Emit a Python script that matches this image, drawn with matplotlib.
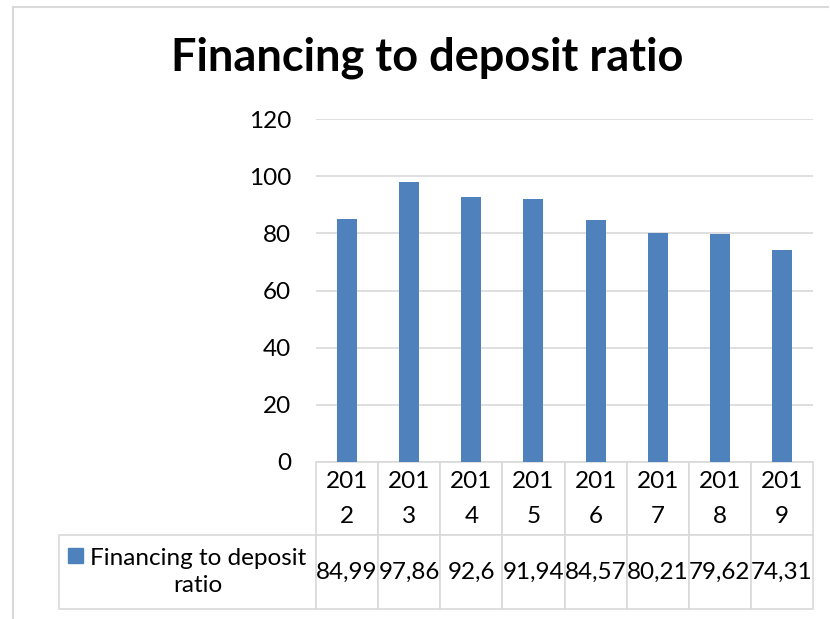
import matplotlib
matplotlib.use("Agg")
import matplotlib.pyplot as plt
from matplotlib.lines import Line2D
from matplotlib.patches import Rectangle

# Data
years = ["2012", "2013", "2014", "2015", "2016", "2017", "2018", "2019"]
ratio = [84.99, 97.86, 92.6, 91.94, 84.57, 80.21, 79.62, 74.31]
series_name = "Financing to deposit ratio"
title = "Financing to deposit ratio"

bar_color = "#4f81bd"
grid_color = "#d9d9d9"
plt.rcParams["font.family"] = ["Lato", "DejaVu Sans"]

W, H = 830, 619
fig = plt.figure(figsize=(W / 100, H / 100), dpi=100)

# plot area in pixels
left, right, top, bottom = 316, 813, 119, 462
ax = fig.add_axes([left / W, 1 - bottom / H, (right - left) / W, (bottom - top) / H])

x = range(len(years))
ax.bar(x, ratio, width=0.32, color=bar_color, zorder=3)
ax.set_xlim(-0.5, len(years) - 0.5)
ax.set_ylim(0, 120)
ax.set_yticks(range(0, 121, 20))
ax.set_xticks([])
ax.yaxis.grid(True, color=grid_color, linewidth=1.2, zorder=0)
for s in ax.spines.values():
    s.set_visible(False)
ax.tick_params(axis="y", length=0, pad=18, labelsize=17.5, labelcolor="#000000")

# data table under the axis (first column = series label)
ph = bottom - top
pw = right - left
tab_left, tab_bottom = 59, 609
col_w = pw / len(years)
year_labels = [y[:3] + "\n" + y[3:] for y in years]
values_txt = [f"{v:g}".replace(".", ",") for v in ratio]
widths = [left - tab_left] + [col_w] * len(years)
tot = sum(widths)
tbl = ax.table(cellText=[[""] + values_txt], colLabels=[""] + year_labels,
               colWidths=[w / tot for w in widths],
               cellLoc="center", colLoc="center",
               bbox=[(tab_left - left) / pw, (bottom - tab_bottom) / ph,
                     (right - tab_left) / pw, (tab_bottom - bottom) / ph])
tbl.auto_set_font_size(False)
tbl.set_fontsize(17.5)
for (r, c), cell in tbl.get_celld().items():
    cell.set_edgecolor(grid_color)
    cell.set_linewidth(1.2)
    cell.get_text().set_linespacing(1.85)
tbl[0, 0].visible_edges = "open"

# row label with legend key
ax.text((198 - left) / pw, (bottom - 572) / ph, series_name.replace(" ratio", "\nratio"),
        transform=ax.transAxes, ha="center", va="center", multialignment="center",
        fontsize=17.5, linespacing=1.35)
ax.add_patch(Rectangle(((68 - left) / pw, (bottom - 563) / ph), 15 / pw, 15 / ph,
                       transform=ax.transAxes, color=bar_color, clip_on=False))

fig.text(427.5 / W, 1 - 58 / H, title, ha="center", va="center",
         fontsize=32.5, fontweight="bold")

# chart frame (top and left edges visible)
fig.add_artist(Line2D([13 / W, 828 / W], [1 - 7 / H, 1 - 7 / H], color=grid_color, lw=1.5))
fig.add_artist(Line2D([13 / W, 13 / W], [1 - 7 / H, 0], color=grid_color, lw=1.5))

fig.savefig("out.png", dpi=100)
